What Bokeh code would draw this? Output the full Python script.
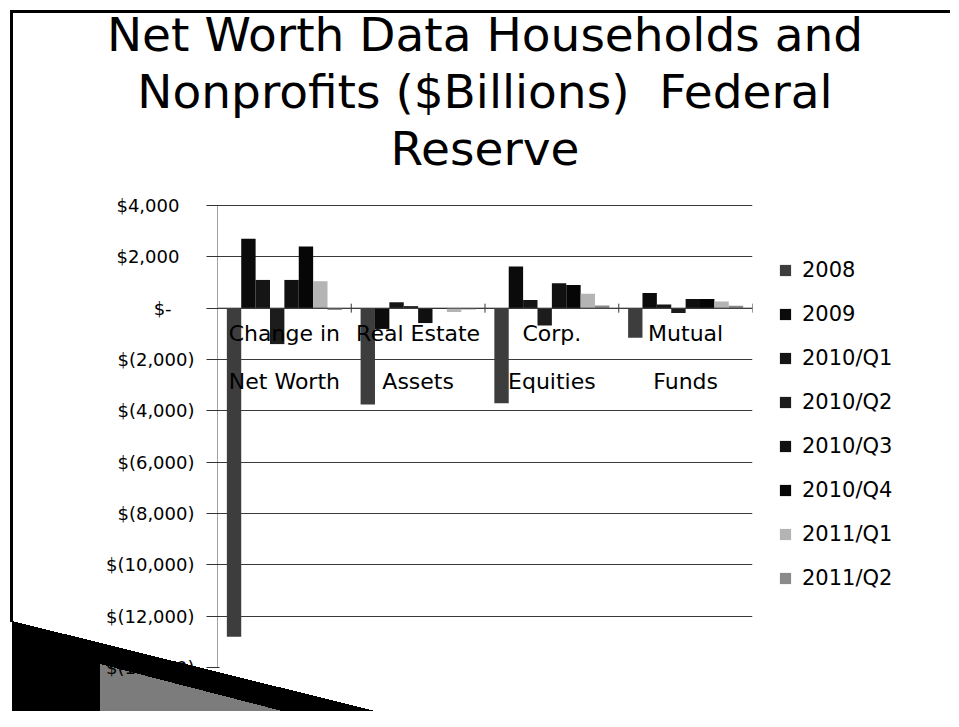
import numpy as np
from bokeh.plotting import figure
from bokeh.models import (FactorRange, Range1d, FixedTicker, Legend, LegendItem,
                          Span, ColumnDataSource, Title)
from bokeh.core.properties import value
from bokeh.embed import file_html
from bokeh.resources import INLINE

# ---------------- data ----------------
title_lines = ["Net Worth Data Households and",
               "Nonprofits ($Billions)\u00a0 Federal",
               "Reserve"]
categories = ["Change in Net Worth", "Real Estate Assets", "Corp. Equities", "Mutual Funds"]
cat_line1 = ["Change in", "Real Estate", "Corp.", "Mutual"]
cat_line2 = ["Net Worth", "Assets", "Equities", "Funds"]
series = ["2008", "2009", "2010/Q1", "2010/Q2", "2010/Q3", "2010/Q4", "2011/Q1", "2011/Q2"]

v_2008 = [-12800, -3750, -3700, -1150]
v_2009 = [2700, -810, 1620, 595]
v_2010q1 = [1100, 230, 320, 140]
v_2010q2 = [-1400, 80, -680, -190]
v_2010q3 = [1100, -580, 970, 360]
v_2010q4 = [2400, -30, 900, 360]
v_2011q1 = [1050, -150, 560, 260]
v_2011q2 = [-70, -50, 100, 90]
series_values = [v_2008, v_2009, v_2010q1, v_2010q2, v_2010q3, v_2010q4, v_2011q1, v_2011q2]

y_ticks = [4000, 2000, 0, -2000, -4000, -6000, -8000, -10000, -12000, -14000]
y_tick_labels = ["$4,000", "$2,000", "$-", "$(2,000)", "$(4,000)", "$(6,000)",
                 "$(8,000)", "$(10,000)", "$(12,000)", "$(14,000)"]
y_min, y_max = -14000, 4000

# ---------------- style ----------------
colors = ["#3d3d3d", "#0b0b0b", "#151515", "#1c1c1c", "#101010", "#060606", "#b4b4b4", "#8a8a8a"]
FONT = "DejaVu Sans"
GROUP_PAD = 1.3

# layout on the canvas (px)
FL, FR = 217, 752          # plot area left / right
Y_TOP, FB = 205, 667       # pixel rows of y_max and y_min
FT = 175                   # frame top (titles sit just above it)
W, H = 943, 711

px_per_unit = (FB - Y_TOP) / (y_max - y_min)
y_end = y_max + (Y_TOP - FT) / px_per_unit

x_range = FactorRange(factors=[(c, s) for c in categories for s in series],
                      group_padding=GROUP_PAD, range_padding=GROUP_PAD / 2,
                      range_padding_units="absolute")

p = figure(frame_width=FR - FL, frame_height=FB - FT,
           x_range=x_range, y_range=Range1d(y_min, y_end),
           output_backend="svg", toolbar_location=None, title=None,
           min_border_left=FL, min_border_right=W - FR,
           min_border_top=FT, min_border_bottom=H - FB)
p.outline_line_color = None
p.background_fill_color = "white"
p.border_fill_alpha = 0.0

# slide decorations painted behind the (transparent) canvas border
p.styles = {
    "background-color": "white",
    "background-image": ("linear-gradient(to top right, #7c7c7c 50%, transparent 50%), "
                         "linear-gradient(to top right, #000000 50%, transparent 50%), "
                         "linear-gradient(#000000, #000000), "
                         "linear-gradient(#000000, #000000)"),
    "background-size": "240px 62px, 428px 106px, 940px 3px, 3px 612px",
    "background-position": "100px 664px, 12px 621px, 10px 10px, 10px 10px",
    "background-repeat": "no-repeat",
}

# title: three centred lines, first added sits closest to the plot
for line in reversed(title_lines):
    t = Title(text=line, align="center", text_font=FONT, text_font_size="47px",
              text_font_style="normal", text_color="black", standoff=0)
    p.add_layout(t, "above")

# axes
p.xaxis.visible = False
p.xgrid.visible = False
ax = p.yaxis[0]
ax.ticker = FixedTicker(ticks=y_ticks)
ax.bounds = (y_min, y_max)
overrides = {}
for t, lab in zip(y_ticks, y_tick_labels):
    if lab.endswith(")"):
        pad = ""
    elif lab.endswith("-"):
        pad = "\u2007\u2007"
    else:
        pad = "\u2007\u2009"
    overrides[t] = lab + pad
ax.major_label_overrides = overrides
ax.major_label_text_font = FONT
ax.major_label_text_font_size = "18px"
ax.major_label_text_color = "black"
ax.major_tick_out = 11
ax.major_tick_in = 2
ax.minor_tick_line_color = None
ax.major_tick_line_color = "#333333"
ax.axis_line_color = "#444444"
ax.axis_line_dash = "1 1"
ax.major_label_standoff = 12

p.ygrid.ticker = FixedTicker(ticks=y_ticks)
p.ygrid.grid_line_color = "#3a3a3a"
p.ygrid.grid_line_width = 1

# bars
items = []
for s, vals, col in zip(series, series_values, colors):
    src = ColumnDataSource(dict(x=[(c, s) for c in categories], top=vals))
    r = p.vbar(x="x", top="top", bottom=0, width=1.0, source=src,
               fill_color=col, line_color=None)
    items.append(LegendItem(label=s, renderers=[r]))

# category axis line at zero + boundary ticks
p.add_layout(Span(location=0, dimension="width", line_color="#444444", line_width=1))
bounds = [(categories[i + 1], series[0], -0.5 - GROUP_PAD / 2) for i in range(3)]
bounds.append((categories[-1], series[-1], 0.5 + GROUP_PAD / 2))
p.scatter(x=bounds, y=[0] * len(bounds), marker="dash", angle=np.pi / 2, size=9,
          line_color="#333333")

# category labels next to the zero line
p.text(x=categories, y=[0] * 4, text=cat_line1, y_offset=25,
       text_font=value(FONT), text_font_size="22px", text_align="center",
       text_baseline="alphabetic", text_color="black")
p.text(x=categories, y=[0] * 4, text=cat_line2, y_offset=73,
       text_font=value(FONT), text_font_size="22px", text_align="center",
       text_baseline="alphabetic", text_color="black")

# legend in the right-hand panel
legend = Legend(items=items, location=(26, 76),
                label_text_font=FONT, label_text_font_size="21px",
                label_text_color="black", glyph_width=14, glyph_height=14,
                label_height=27, label_standoff=10, spacing=17, padding=0,
                margin=26, border_line_color=None, background_fill_alpha=0)
p.add_layout(legend, "right")

open("out.html", "w").write(file_html(p, INLINE))
